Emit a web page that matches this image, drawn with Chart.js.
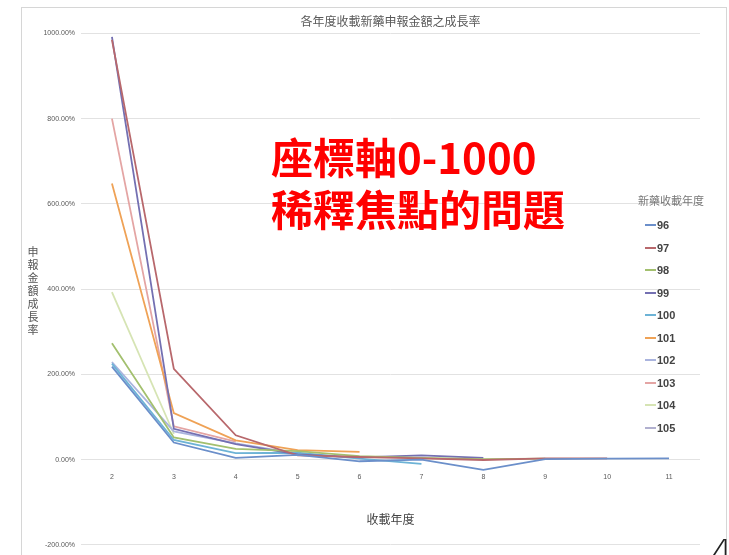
<!DOCTYPE html>
<html>
<head>
<meta charset="utf-8">
<script src="https://cdn.jsdelivr.net/npm/chart.js@4/dist/chart.umd.min.js"></script>
<style>
  html, body { margin: 0; padding: 0; background: #fff; }
  #wrap { position: relative; width: 729px; height: 555px; overflow: hidden; }
  #frame { position: absolute; left: 21px; top: 7px; width: 706px; height: 600px;
           border: 1px solid #d6d6d6; box-sizing: border-box; }
  #c { position: absolute; left: 0; top: 0; }
  #ytitle { position: absolute; left: 27px; top: 246px; writing-mode: vertical-rl; text-orientation: upright;
            font: 11px "Noto Sans CJK TC", sans-serif; letter-spacing: 2px; color: #555; line-height: 12px; }
  #legend { position: absolute; left: 638px; top: 190px; font-family: "Noto Sans CJK TC", sans-serif; }
  #legend .ttl { font-size: 11px; color: #777; height: 24px; line-height: 20px; white-space: nowrap; }
  #legend .item { display: flex; align-items: center; height: 22.5px;
                  font: bold 11px "Liberation Sans Narrow", "Liberation Sans", sans-serif; color: #444; }
  #legend .item i { display: block; margin-left: 7px; margin-right: 1px; width: 11px; height: 1.6px; }
  #note { position: absolute; left: 271px; top: 130px; color: #ff0000; font: bold 42px "Noto Sans CJK TC", sans-serif;
          line-height: 52px; white-space: nowrap; }
  #page { position: absolute; left: 711px; top: 532px; font: 300 34px "DejaVu Sans", sans-serif; color: #222; line-height: 40px; }
</style>
</head>
<body>
<div id="wrap">
  <div id="frame"></div>
  <canvas id="c" width="729" height="555"></canvas>
  <div id="ytitle">申報金額成長率</div>
  <div id="legend"></div>
  <div id="note">座標軸0-1000<br>稀釋焦點的問題</div>
  <div id="page">4</div>
</div>
<script>
// Years since listing (x axis categories)
const yearsSinceListing = ['2', '3', '4', '5', '6', '7', '8', '9', '10', '11'];

// Listing cohorts (legend)
const cohortLabels = ['96', '97', '98', '99', '100', '101', '102', '103', '104', '105'];

// Growth rate of claimed amount (%), one array per listing cohort
const growth96  = [218, 40, 4, 11, -4, 0, -24, 1, 2, 3];
const growth97  = [985, 213, 57, 10, 6, 3, -1, 3, 3, null];
const growth98  = [273, 52, 25, 20, 8, 4, 1, 2, null, null];
const growth99  = [992, 72, 36, 12, 5, 10, 4, null, null, null];
const growth100 = [225, 46, 15, 16, 2, -10, null, null, null, null];
const growth101 = [648, 109, 45, 22, 18, null, null, null, null, null];
const growth102 = [229, 66, 38, 14, null, null, null, null, null, null];
const growth103 = [800, 78, 42, null, null, null, null, null, null, null];
const growth104 = [393, 60, null, null, null, null, null, null, null, null];
const growth105 = [215, null, null, null, null, null, null, null, null, null];

// Y axis tick values (%)
const yTickValues = [-200, 0, 200, 400, 600, 800, 1000];

const cohortSeries = [growth96, growth97, growth98, growth99, growth100,
                      growth101, growth102, growth103, growth104, growth105];
const cohortColors = ['#6b8fca', '#b8686c', '#a3c06f', '#7470b2', '#6db3d6',
                      '#efa256', '#aab4de', '#e4a5a4', '#d6e4b4', '#b1b0cf'];

const datasets = cohortLabels.map((lbl, i) => ({
  label: lbl,
  data: cohortSeries[i],
  borderColor: cohortColors[i],
  backgroundColor: cohortColors[i],
  borderWidth: 1.8,
  pointRadius: 0,
  pointHoverRadius: 0,
  tension: 0,
  fill: false
}));

const chart = new Chart(document.getElementById('c'), {
  type: 'line',
  data: { labels: yearsSinceListing, datasets },
  options: {
    responsive: false,
    devicePixelRatio: 1,
    animation: false,
    events: [],
    layout: { padding: { top: 0, right: 29, bottom: 4, left: 0 } },
    plugins: {
      legend: { display: false },
      tooltip: { enabled: false },
      title: {
        display: true,
        text: '各年度收載新藥申報金額之成長率',
        fullSize: false,
        color: '#595959',
        font: { family: '"Noto Sans CJK TC", sans-serif', size: 12, weight: 'normal' },
        padding: { top: 14, bottom: 5 }
      }
    },
    scales: {
      x: {
        type: 'category',
        offset: true,
        position: { y: 0 },
        afterFit: (s) => { s.height = 0; },
        grid: { display: false, drawTicks: false },
        border: { display: false },
        ticks: {
          padding: 13,
          color: '#595959',
          font: { family: '"Liberation Sans Narrow", "Liberation Sans", sans-serif', size: 7 },
          maxRotation: 0,
          autoSkip: false
        },
        title: {
          display: true,
          text: '收載年度',
          color: '#444',
          font: { family: '"Noto Sans CJK TC", sans-serif', size: 12 },
          padding: { top: 0, bottom: -67 }
        }
      },
      y: {
        min: -200,
        max: 1000,
        afterFit: (s) => { s.width = 81; },
        afterBuildTicks: (s) => { s.ticks = yTickValues.map(v => ({ value: v })); },
        grid: { color: '#e2e2e2', lineWidth: 1, drawTicks: false },
        border: { display: false },
        ticks: {
          padding: 6,
          color: '#595959',
          font: { family: '"Liberation Sans Narrow", "Liberation Sans", sans-serif', size: 7 },
          callback: (v) => Number(v).toFixed(2) + '%'
        }
      }
    }
  }
});

// Legend built from the chart's datasets
const legendEl = document.getElementById('legend');
legendEl.innerHTML = '<div class="ttl">新藥收載年度</div>' +
  chart.data.datasets.map(d => `<div class="item"><i style="background:${d.borderColor}"></i>${d.label}</div>`).join('');
</script>
</body>
</html>
